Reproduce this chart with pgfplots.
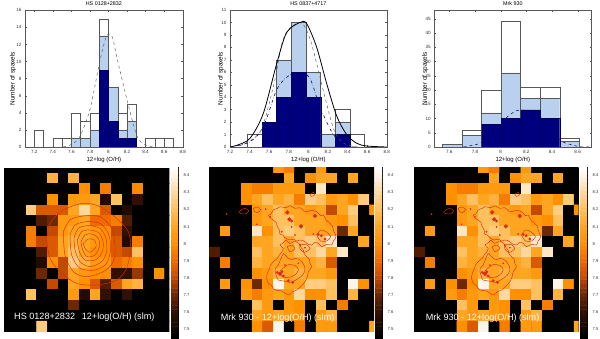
\documentclass[border=0pt]{standalone}
\usepackage{fontspec}
\setmainfont{Liberation Sans}
\usepackage{pgfplots}
\usepackage{pgfplotstable}
\pgfplotsset{compat=1.18}

\definecolor{lightbar}{HTML}{B9D1EE}
\definecolor{navybar}{HTML}{00007F}
\definecolor{edgegray}{HTML}{585858}
\definecolor{contourred}{HTML}{DD2A10}

\tikzset{maptext/.style={text=white,font=\fontsize{9.1}{10}\selectfont,anchor=west,inner sep=0pt}}

\pgfplotsset{
  colormap={oh}{rgb255(0pt)=(0,0,0); rgb255(15pt)=(48,16,0); rgb255(25pt)=(110,40,0);
    rgb255(35pt)=(196,74,0); rgb255(45pt)=(240,106,0); rgb255(55pt)=(255,144,0);
    rgb255(65pt)=(255,165,32); rgb255(75pt)=(255,192,96); rgb255(85pt)=(255,216,160);
    rgb255(95pt)=(255,244,232); rgb255(100pt)=(255,255,255)},
  histaxis/.style={
    scale only axis, axis line style={edgegray,line width=.4pt},
    tick style={edgegray,line width=.3pt}, tick align=inside, major tick length=1.5pt,
    ticklabel style={font=\fontsize{4.6}{5}\selectfont,/pgf/number format/assume math mode=true,
      /pgf/number format/precision=1, text=black!80},
    xtick distance=0.2, scaled ticks=false,
    xlabel style={font=\fontsize{6}{7}\selectfont,yshift=3.5pt},
    ylabel style={font=\fontsize{6.4}{7}\selectfont,yshift=-6.5pt},
    title style={font=\fontsize{5.4}{6}\selectfont,yshift=-5pt},
    xlabel={12+log (O/H)}, ylabel={Number of spaxels},
  },
  whitebar/.style={ybar interval,draw=edgegray,fill=white,line width=.4pt},
  bluebar/.style={ybar interval,draw=edgegray,fill=lightbar,line width=.4pt},
  darkbar/.style={ybar interval,draw=navybar!70!black,fill=navybar,line width=.3pt},
  heataxis/.style={
    scale only axis, enlargelimits=false, y dir=reverse,
    ticks=none, axis line style={draw=none}, axis background/.style={fill=black},
    point meta min=7.45, point meta max=8.45,
  },
  cbaraxis/.style={
    scale only axis, enlargelimits=false, width=7.2pt, height=170.7pt,
    xmin=0, xmax=1, ymin=7.447, ymax=8.45, xtick=\empty, ytick pos=right,
    ytick={7.5,7.6,7.7,7.8,7.9,8,8.1,8.2,8.3,8.4},
    tick style={black,line width=.3pt}, major tick length=1pt,
    axis line style={black,line width=.3pt},
    point meta min=7.45, point meta max=8.45,
    yticklabel style={font=\fontsize{4.2}{5}\selectfont,
      /pgf/number format/assume math mode=true,/pgf/number format/precision=1,text=black!80,xshift=2pt},
  },
  cline/.style={contourred,line width=.45pt},
  cdot/.style={only marks,mark=*,mark size=#1,mark options={fill=contourred,draw=contourred}},
}

\pgfplotstableread[row sep=\\,header=false]{
7.45\\7.45\\7.45\\7.45\\7.45\\7.45\\7.45\\7.45\\7.45\\7.45\\7.45\\7.45\\7.45\\7.45\\7.45\\7.45\\
7.45\\7.45\\7.45\\7.45\\8.15\\7.45\\8.15\\7.45\\7.45\\7.45\\7.45\\7.45\\7.45\\7.45\\7.45\\7.45\\
7.45\\7.45\\7.45\\7.45\\7.45\\7.45\\7.45\\8.0\\7.45\\7.95\\7.45\\7.45\\7.98\\7.45\\7.45\\7.45\\
7.45\\7.45\\7.45\\7.45\\8.0\\7.45\\8.05\\8.05\\8.1\\7.55\\8.2\\7.45\\7.6\\7.45\\7.45\\7.45\\
7.45\\7.45\\8.25\\7.85\\7.85\\7.85\\8.1\\8.3\\8.1\\7.85\\7.45\\7.55\\7.45\\7.45\\7.45\\7.45\\
7.45\\7.45\\7.45\\7.65\\7.7\\8.05\\8.05\\8.1\\7.9\\7.9\\7.95\\7.65\\7.45\\7.45\\7.45\\7.45\\
7.45\\7.45\\7.95\\7.45\\7.8\\8.05\\8.1\\8.1\\8.05\\8.0\\7.8\\7.6\\7.45\\7.45\\7.45\\7.45\\
7.45\\7.45\\7.95\\7.8\\7.85\\8.1\\8.15\\8.1\\8.05\\8.0\\7.85\\7.55\\7.95\\7.45\\7.45\\7.45\\
7.45\\7.45\\7.45\\7.65\\7.85\\8.1\\8.2\\8.1\\8.0\\8.0\\7.85\\7.8\\8.2\\7.45\\7.45\\7.45\\
7.45\\7.45\\7.45\\7.55\\8.0\\7.8\\8.25\\8.15\\8.05\\8.05\\7.9\\7.95\\8.0\\7.45\\7.45\\7.45\\
7.45\\7.45\\7.45\\7.7\\7.45\\7.8\\8.1\\8.05\\8.0\\8.0\\7.6\\7.6\\7.75\\7.45\\8.0\\7.45\\
7.45\\7.45\\7.45\\7.45\\7.8\\7.45\\8.1\\8.0\\7.85\\7.65\\7.85\\8.1\\8.15\\7.45\\7.45\\7.45\\
7.45\\7.45\\8.2\\7.45\\7.45\\7.45\\8.05\\7.55\\8.1\\7.6\\7.45\\7.6\\7.45\\7.45\\7.45\\7.45\\
7.45\\7.45\\7.45\\7.45\\7.45\\7.45\\7.7\\7.45\\7.45\\7.45\\7.45\\7.45\\7.45\\7.45\\7.45\\7.45\\
7.45\\7.45\\7.45\\7.45\\7.45\\7.45\\7.45\\7.45\\7.45\\7.45\\7.45\\7.45\\7.45\\7.45\\7.45\\7.45\\
7.45\\7.45\\7.45\\8.25\\7.45\\7.45\\7.45\\7.45\\7.45\\7.45\\7.45\\7.45\\7.45\\7.45\\7.45\\7.45\\
}\hsmap

\pgfplotstableread[row sep=\\,header=false]{
7.45\\7.45\\7.45\\7.45\\7.45\\7.45\\8.05\\7.95\\7.45\\7.45\\8.05\\7.45\\7.45\\7.45\\7.45\\7.45\\
7.45\\7.45\\7.45\\7.45\\7.45\\7.45\\7.45\\8.1\\7.45\\8.0\\8.1\\8.1\\7.45\\8.1\\7.45\\7.45\\
7.45\\7.45\\7.45\\8.0\\7.95\\7.95\\8.05\\8.05\\8.05\\7.45\\8.35\\7.45\\7.45\\7.45\\7.45\\7.45\\
7.45\\7.45\\7.45\\8.0\\8.1\\8.2\\8.1\\8.15\\7.95\\8.25\\8.2\\8.05\\8.1\\8.0\\8.25\\7.45\\
7.45\\7.45\\7.45\\7.45\\8.05\\8.1\\8.2\\8.1\\8.1\\8.05\\8.1\\7.8\\8.1\\8.25\\7.45\\8.0\\
7.45\\7.45\\7.45\\7.45\\8.05\\8.1\\8.2\\8.2\\8.1\\8.1\\8.1\\8.05\\8.0\\8.2\\7.45\\7.45\\
7.45\\8.05\\7.45\\7.45\\8.35\\8.0\\8.2\\8.25\\8.2\\8.1\\8.1\\8.1\\7.7\\8.1\\7.45\\7.45\\
7.45\\7.45\\7.45\\7.45\\8.1\\8.1\\8.2\\8.1\\8.2\\8.25\\8.2\\8.35\\7.45\\7.45\\8.1\\7.45\\
7.65\\7.45\\7.45\\7.45\\8.2\\8.1\\8.15\\8.1\\8.2\\8.2\\8.3\\8.1\\8.35\\7.45\\7.45\\7.45\\
7.45\\7.95\\7.45\\7.45\\8.15\\8.1\\8.1\\8.1\\8.1\\8.1\\8.15\\7.85\\7.45\\7.45\\7.45\\7.45\\
7.45\\7.45\\7.45\\7.45\\8.0\\8.05\\8.15\\8.1\\8.15\\8.1\\8.1\\8.05\\7.45\\7.45\\7.45\\7.45\\
7.45\\8.05\\7.45\\8.0\\7.7\\8.0\\8.4\\8.1\\8.1\\8.25\\8.25\\8.2\\7.45\\8.4\\8.0\\7.45\\
7.45\\7.45\\7.45\\8.05\\7.95\\8.05\\8.1\\8.05\\8.3\\8.0\\8.0\\8.2\\7.45\\8.15\\7.45\\7.45\\
7.45\\7.45\\7.45\\7.45\\8.2\\8.05\\7.45\\8.05\\8.0\\7.45\\8.2\\7.45\\7.95\\7.45\\7.45\\7.45\\
7.45\\7.45\\7.45\\7.45\\8.1\\8.05\\8.1\\8.05\\8.0\\7.45\\8.05\\8.15\\7.45\\7.45\\7.45\\7.45\\
7.45\\7.45\\7.45\\7.45\\8.0\\7.85\\8.4\\7.45\\7.95\\7.45\\8.05\\8.05\\7.45\\7.45\\7.45\\8.1\\
}\mrkmap

% colour bar levels, each row twice (left and right edge of the bar)
\pgfplotstableread[row sep=\\,header=false]{
7.45\\7.45\\7.475\\7.475\\7.5\\7.5\\7.525\\7.525\\7.55\\7.55\\7.575\\7.575\\7.6\\7.6\\7.625\\7.625\\
7.65\\7.65\\7.675\\7.675\\7.7\\7.7\\7.725\\7.725\\7.75\\7.75\\7.775\\7.775\\7.8\\7.8\\7.825\\7.825\\
7.85\\7.85\\7.875\\7.875\\7.9\\7.9\\7.925\\7.925\\7.95\\7.95\\7.975\\7.975\\8\\8\\8.025\\8.025\\
8.05\\8.05\\8.075\\8.075\\8.1\\8.1\\8.125\\8.125\\8.15\\8.15\\8.175\\8.175\\8.2\\8.2\\8.225\\8.225\\
8.25\\8.25\\8.275\\8.275\\8.3\\8.3\\8.325\\8.325\\8.35\\8.35\\8.375\\8.375\\8.4\\8.4\\8.425\\8.425\\
8.45\\8.45\\
}\barlevels

\newcommand{\mapbar}{
  \addplot[matrix plot*, mesh/cols=2, point meta=explicit]
    table[x index=0, x expr={mod(\coordindex+0.5,2)-0.5}, y index=0, meta index=0] {\barlevels};
}

% contour traces of the Mrk 930 map, in the map's own frame
\newcommand{\mrkcontours}{
  \addplot[cline,smooth] coordinates {(205,150)(212,148)(220,135)(232,130)(240,125)(258,128)(270,122)(285,130)(300,128)(312,138)(320,140)(335,136)(350,140)(362,152)(370,150)(380,168)(385,170)(398,185)(400,195)(408,215)(400,228)(395,240)(380,238)(365,245)(355,235)(345,232)(335,240)(325,238)(312,228)(300,225)(290,228)(280,222)(268,225)(255,218)(248,210)(240,208)(238,195)(232,185)(228,172)(220,165)(212,160)(205,150)};
  \addplot[cline,smooth] coordinates {(258,225)(248,235)(240,240)(250,250)(245,262)(238,270)(232,280)(222,288)(212,300)(208,312)(202,325)(200,340)(205,355)(215,362)(225,375)(245,378)(265,390)(278,380)(290,375)(305,362)(315,350)(322,335)(325,320)(335,305)(330,295)(328,282)(320,275)(312,265)(310,255)(303,247)(300,238)(292,232)(285,228)(270,235)(258,225)};
  \addplot[cline,smooth] coordinates {(250,265)(242,282)(235,300)(226,310)(225,320)(230,335)(235,345)(252,348)(270,352)(282,348)(295,340)(308,330)(315,315)(312,300)(305,290)(295,282)(285,280)(275,284)(265,280)(258,272)(250,265)};
  \addplot[cline,smooth] coordinates {(240,318)(255,305)(268,298)(285,302)(295,312)(290,325)(275,335)(258,338)(245,332)(240,318)};
  \addplot[cline,smooth] coordinates {(350,210)(362,195)(378,200)(392,215)(380,228)(362,228)(350,210)};
  \addplot[cline,smooth] coordinates {(116,142)(124,134)(135,130)(146,137)(138,146)(124,146)(116,142)};
  \addplot[cline,smooth] coordinates {(160,130)(172,126)(182,134)(174,142)(164,140)(160,130)};
  \addplot[cline,smooth] coordinates {(330,88)(340,82)(344,90)(334,94)(330,88)};
  \addplot[cline,smooth] coordinates {(262,245)(275,240)(285,250)(270,260)(262,245)};
  \addplot[cline,smooth] coordinates {(300,240)(318,238)(330,250)(314,262)(300,252)(300,240)};
  \addplot[cdot=1.9pt] coordinates {(262,142)(268,163)(345,153)(303,184)(240,326)};
  \addplot[cdot=1.2pt] coordinates {(275,168)(232,322)(250,333)(265,347)(278,352)(364,212)(375,222)(355,208)(246,320)};
  \addplot[cdot=.6pt] coordinates {(80,147)(197,132)(210,155)(275,186)(340,207)(300,240)(315,248)(255,300)(295,295)(170,178)(245,200)(285,210)};
}

\begin{document}
\begin{tikzpicture}[x=1pt,y=1pt]
\path[use as bounding box] (0,0) rectangle (600,339);

% top row: histograms
\begin{axis}[histaxis, at={(25pt,192pt)}, anchor=south west, width=157.7pt, height=136.7pt,
  xmin=7.1, xmax=8.8, ymin=0, ymax=16, ytick distance=2, title={HS 0128+2832}]
\addplot[whitebar] coordinates {(7.2,2)(7.3,0)(7.4,1)(7.5,1)(7.6,4)(7.7,3)(7.8,4)(7.9,15)(8.0,7)(8.1,4)(8.2,5)(8.3,0)(8.4,1)(8.5,1)(8.6,1)(8.7,1)};
\addplot[bluebar] coordinates {(7.6,1)(7.7,1)(7.8,2)(7.9,13)(8.0,7)(8.1,2)(8.2,3)(8.3,3)};
\addplot[darkbar] coordinates {(7.9,9)(8.0,3)(8.1,1)(8.2,1)(8.3,1)};
\addplot[edgegray,dashed,line width=.45pt,smooth] coordinates {(7.51,0)(7.60,0.3)(7.69,1.2)(7.80,4.4)(7.91,10.2)(7.98,13)(8.04,12.9)(8.09,10.5)(8.20,5.5)(8.31,1.2)(8.41,0.2)(8.49,0)};
\end{axis}

\begin{axis}[histaxis, at={(230pt,192pt)}, anchor=south west, width=156.7pt, height=137pt,
  xmin=7.2, xmax=8.8, ymin=0, ymax=11, ytick distance=1, title={HS 0837+4717}, ylabel style={yshift=-3pt}]
\addplot[whitebar] coordinates {(7.377,1)(7.527,0)(7.673,0)(7.826,0)(7.98,0)(8.126,1)(8.276,3)(8.426,1)(8.575,1)};
\addplot[bluebar] coordinates {(7.527,2)(7.673,7)(7.826,10)(7.98,6)(8.126,1)(8.276,2)(8.426,2)};
\addplot[darkbar] coordinates {(7.527,2)(7.673,4)(7.826,6)(7.98,4)(8.126,0)(8.276,1)(8.426,1)};
\addplot[edgegray,dashed,line width=.45pt,smooth] coordinates {(7.30,0.1)(7.51,1.25)(7.65,5.1)(7.75,8.8)(7.915,10)(8.02,8.6)(8.16,4.3)(8.26,1.4)(8.36,0.3)(8.5,0)};
\addplot[navybar,dashdotted,line width=.6pt,smooth] coordinates {(7.2,0)(7.40,0.4)(7.54,1.6)(7.677,4.6)(7.796,5.7)(7.915,6)(8.017,5.5)(8.12,3.2)(8.255,1)(8.39,0.1)(8.5,0)};
\addplot[black,line width=.8pt,smooth] coordinates {(7.2,0)(7.268,0.13)(7.404,0.7)(7.54,2.7)(7.677,6.7)(7.779,9.2)(7.915,10)(7.983,9.9)(8.085,8.0)(8.187,5.1)(8.289,2.5)(8.391,1.0)(8.494,0.3)(8.596,0.08)(8.8,0)};
\end{axis}

\begin{axis}[histaxis, at={(434.3pt,192pt)}, anchor=south west, width=157pt, height=136.7pt,
  xmin=7.483, xmax=8.706, ymin=0, ymax=48, ytick distance=5, title={Mrk 930}, ylabel style={yshift=-3pt}]
\addplot[whitebar] coordinates {(7.545,1)(7.699,6)(7.852,20)(8.003,44)(8.156,21)(8.306,21)(8.46,3)(8.613,3)};
\addplot[bluebar] coordinates {(7.545,1)(7.699,4)(7.852,12)(8.003,26)(8.156,17)(8.306,17)(8.46,2)(8.613,2)};
\addplot[darkbar] coordinates {(7.852,8)(8.003,10)(8.156,13)(8.306,10)(8.46,10)};
\addplot[navybar,line width=.8pt] coordinates {(7.483,0)(7.70,0)};
\addplot[navybar,line width=.8pt] coordinates {(8.61,0)(8.706,0)};
\addplot[navybar,dashed,line width=.5pt,smooth] coordinates {(7.71,0)(7.76,0.4)(7.85,1.5)(7.95,5)(8.05,10.5)(8.15,13)(8.3,11)(8.46,2.6)(8.55,0.8)(8.62,0.1)(8.706,0)};
\end{axis}

% bottom row: metallicity maps
\begin{axis}[heataxis, at={(4pt,7.3pt)}, anchor=south west, width=165.3pt, height=163.4pt,
  xmin=12, xmax=508, ymin=10, ymax=500]
\addplot[matrix plot*, mesh/cols=16, point meta=explicit]
  table[x index=0, y index=0, x expr={30+32*(mod(\coordindex+0.5,16)-0.5)}, y expr={8.125+31.75*floor((\coordindex+0.5)/16)}, meta index=0] {\hsmap};
\addplot[cline,smooth] coordinates {(140,225)(150,175)(190,135)(250,115)(300,125)(350,160)(385,200)(392,250)(380,310)(350,345)(290,360)(230,355)(180,320)(150,280)(140,225)};
\addplot[cline,smooth] coordinates {(190,200)(210,165)(250,153)(300,155)(335,190)(345,240)(340,290)(310,320)(260,335)(220,320)(195,270)(190,200)};
\addplot[cline,smooth] coordinates {(210,210)(225,180)(260,170)(300,175)(325,205)(332,250)(320,295)(285,315)(240,310)(215,270)(210,210)};
\addplot[cline,smooth] coordinates {(222,220)(235,190)(265,182)(300,190)(318,220)(320,260)(305,290)(270,305)(240,290)(225,255)(222,220)};
\addplot[cline,smooth] coordinates {(232,225)(245,200)(270,195)(298,205)(310,235)(305,265)(285,285)(255,285)(238,260)(232,225)};
\addplot[cline,smooth] coordinates {(243,230)(255,210)(275,207)(295,220)(298,245)(285,270)(262,275)(248,255)(243,230)};
\addplot[cline,smooth] coordinates {(250,235)(265,222)(283,225)(288,245)(270,262)(255,250)(250,235)};
\node[maptext] at (axis cs:42,455) {HS 0128+2832};
\node[maptext] at (axis cs:245,455) {12+log(O/H) (slm)};
\end{axis}
\begin{axis}[cbaraxis, at={(171pt,1.3pt)}, anchor=south west]
\mapbar
\end{axis}

\begin{axis}[heataxis, at={(209pt,7.3pt)}, anchor=south west, width=165pt, height=164pt,
  xmin=27, xmax=522, ymin=8, ymax=500]
\addplot[matrix plot*, mesh/cols=16, point meta=explicit]
  table[x index=0, y index=0, x expr={44+32*(mod(\coordindex+0.5,16)-0.5)}, y expr={8.125+31.75*floor((\coordindex+0.5)/16)}, meta index=0] {\mrkmap};
\mrkcontours
\node[maptext] at (axis cs:62,458) {Mrk 930 - 12+log(O/H) (slm)};
\end{axis}
\begin{axis}[cbaraxis, at={(375pt,1.3pt)}, anchor=south west]
\mapbar
\end{axis}

\begin{axis}[heataxis, at={(414pt,7.3pt)}, anchor=south west, width=164.7pt, height=164pt,
  xmin=27, xmax=522, ymin=8, ymax=500]
\addplot[matrix plot*, mesh/cols=16, point meta=explicit]
  table[x index=0, y index=0, x expr={44+32*(mod(\coordindex+0.5,16)-0.5)}, y expr={8.125+31.75*floor((\coordindex+0.5)/16)}, meta index=0] {\mrkmap};
\mrkcontours
\node[maptext] at (axis cs:62,458) {Mrk 930 - 12+log(O/H) (slm)};
\end{axis}
\begin{axis}[cbaraxis, at={(580pt,1.3pt)}, anchor=south west]
\mapbar
\end{axis}
\end{tikzpicture}
\end{document}
